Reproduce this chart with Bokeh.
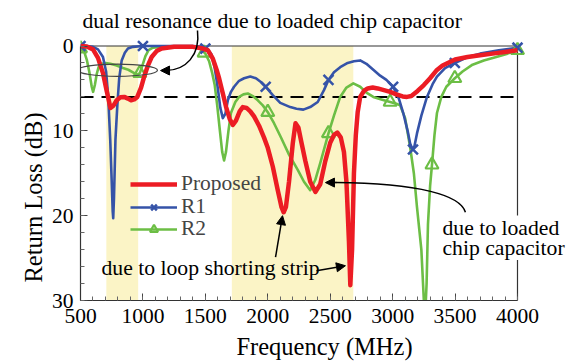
import math
from bokeh.plotting import figure
from bokeh.models import (Range1d, BoxAnnotation, Label, Arrow, NormalHead,
                          Legend, LegendItem, FixedTicker, Title)
from bokeh.embed import file_html
from bokeh.resources import INLINE

# ---------------- data ----------------
freq_prop = [500, 550, 600, 640, 680, 710, 740, 765, 790, 820, 850, 880, 905, 930, 955, 985,
             1010, 1040, 1070, 1110, 1150, 1250, 1400, 1480, 1520, 1560, 1590, 1610, 1640, 1666,
             1695, 1720, 1745, 1775, 1800, 1830, 1860, 1890, 1930, 1970, 2000, 2040, 2080, 2110,
             2127, 2145, 2170, 2200, 2222, 2245, 2270, 2300, 2340, 2382, 2420, 2460, 2500, 2530,
             2557, 2585, 2610, 2630, 2650, 2661, 2675, 2690, 2705, 2720, 2740, 2770, 2800, 2840,
             2880, 2930, 2980, 3030, 3080, 3115, 3150, 3200, 3250, 3300, 3350, 3400, 3500, 3600,
             3700, 3800, 3900, 4000]
rl_prop = [0.0, 0.05, 0.4, 1.4, 3.2, 5.3, 7.3, 7.0, 6.4, 6.05, 6.0, 6.2, 6.4, 6.3, 6.0, 4.9,
           3.6, 2.3, 1.3, 0.6, 0.3, 0.1, 0.1, 0.3, 0.5, 1.5, 2.8, 3.8, 5.6, 7.2,
           8.6, 9.3, 8.8, 7.7, 7.2, 7.3, 7.7, 8.3, 9.4, 10.8, 12.0, 14.2, 17.0, 19.0,
           19.6, 19.0, 16.0, 11.5, 9.1, 9.6, 11.4, 13.5, 16.0, 17.2, 16.3, 13.6, 11.4, 10.5,
           10.2, 10.8, 12.5, 16.0, 23.0, 28.2, 24.0, 15.0, 10.5, 7.8, 6.0, 5.3, 5.0, 4.9,
           5.0, 5.2, 5.4, 5.7, 5.95, 6.0, 5.9, 5.3, 4.6, 3.8, 2.9, 2.3, 1.6, 1.3,
           1.1, 0.9, 0.7, 0.5]

freq_r1 = [500, 550, 600, 640, 680, 705, 722, 738, 750, 758, 762, 768, 780, 795, 810, 830, 855,
           880, 920, 1000, 1200, 1400, 1480, 1520, 1550, 1575, 1600, 1620, 1640, 1660, 1680,
           1705, 1730, 1770, 1810, 1860, 1905, 1950, 1983, 2040, 2100, 2180, 2230, 2285, 2340,
           2400, 2450, 2486, 2530, 2580, 2640, 2690, 2740, 2790, 2845, 2900, 2950, 3004, 3050,
           3085, 3120, 3140, 3160, 3175, 3195, 3230, 3275, 3320, 3355, 3420, 3498, 3600, 3700,
           3850, 4000]
rl_r1 = [0.0, 0.0, 0.1, 0.4, 1.3, 3.0, 6.0, 11.0, 16.0, 19.5, 20.3, 18.0, 11.0, 7.0, 3.8, 1.7, 0.8,
         0.3, 0.1, 0.0, 0.0, 0.0, 0.1, 0.4, 1.0, 2.6, 5.0, 7.3, 8.5, 8.0, 6.4,
         5.4, 4.8, 4.1, 3.8, 3.6, 3.8, 4.3, 4.8, 5.8, 6.7, 7.2, 7.4, 7.5, 7.2,
         6.6, 5.2, 4.0, 3.1, 2.5, 2.0, 1.8, 1.7, 2.1, 2.8, 3.5, 4.0, 4.8, 6.2,
         7.9, 10.0, 11.5, 12.2, 11.8, 10.3, 8.2, 6.0, 4.5, 3.6, 2.6, 2.0, 1.3, 0.9,
         0.5, 0.2]

freq_r2 = [500, 530, 550, 570, 590, 601, 615, 630, 645, 670, 700, 740, 790, 840, 883, 920, 955,
           975, 1000, 1020, 1045, 1080, 1150, 1400, 1460, 1500, 1530, 1555, 1575, 1595, 1615,
           1635, 1650, 1665, 1685, 1705, 1740, 1770, 1805, 1840, 1880, 1920, 1960, 2000, 2050,
           2103, 2170, 2240, 2290, 2340, 2380, 2420, 2486, 2530, 2580, 2630, 2685, 2740, 2790,
           2845, 2910, 2980, 3030, 3060, 3100, 3140, 3170, 3195, 3230, 3250, 3260, 3272, 3283,
           3300, 3315, 3335, 3355, 3390, 3430, 3498, 3560, 3640, 3730, 3830, 3920, 4000]
rl_r2 = [0.3, 0.7, 1.6, 3.0, 4.8, 5.4, 4.6, 3.3, 2.5, 2.1, 2.0, 2.1, 2.3, 2.6, 2.8, 3.1, 3.4,
         3.2, 2.1, 1.2, 0.5, 0.2, 0.1, 0.1, 0.3, 0.9, 1.8, 3.2, 4.6, 7.0, 9.8,
         12.5, 13.5, 12.5, 10.0, 7.9, 6.6, 6.0, 5.7, 5.6, 5.9, 6.4, 7.0, 7.8, 9.1,
         10.7, 12.8, 14.6, 16.0, 17.0, 15.8, 13.8, 10.3, 8.2, 6.0, 4.9, 4.4, 4.8, 5.5,
         6.0, 6.3, 6.6, 6.8, 7.0, 8.5, 11.9, 15.0, 19.0, 24.0, 30.0, 32.0, 28.0, 21.0,
         16.5, 14.0, 10.5, 7.9, 6.0, 4.8, 3.8, 3.0, 2.2, 1.7, 1.3, 0.9, 0.5]

r1_mk_f = [500, 1000, 1500, 1983, 2486, 3004, 3163, 3498, 4000]
r1_mk_db = [0.0, 0.0, 0.3, 4.8, 4.0, 4.8, 12.2, 2.0, 0.2]
r2_mk_f = [500, 975, 1490, 2000, 2486, 2980, 3315, 3498, 4000]
r2_mk_db = [0.3, 3.2, 0.8, 7.8, 10.3, 6.6, 14.0, 3.8, 0.5]

bands = [(707, 962), (1712, 2685)]
threshold_db = 6
x_min, x_max = 500, 4000
y_min, y_max = 0, 30
x_ticks = [500, 1000, 1500, 2000, 2500, 3000, 3500, 4000]
y_ticks = [0, 10, 20, 30]
series_names = ["Proposed", "R1", "R2"]

# ---------------- styles ----------------
RED = "#EC1C24"
BLUE = "#3553A8"
GREEN = "#6CBE45"
BAND = "#FBF4C6"
FRAME = "#333333"
FONT = "Liberation Serif"
TXT = "21.7px"
TICK = "21.5px"
AXL = "24.5px"

# frame covers the canvas up to its top/right edges so annotations outside the
# axes box are not clipped; the visible box is drawn to the axis bounds.
p = figure(width=568, height=362, output_backend="svg", toolbar_location=None,
           x_range=Range1d(500, 4408.5), y_range=Range1d(30, -5.364),
           min_border_left=80, min_border_right=0, min_border_top=0, min_border_bottom=62)
p.grid.visible = False
p.outline_line_color = None
p.background_fill_color = "white"

for (a, b) in bands:
    p.add_layout(BoxAnnotation(left=a, right=b, top=y_min, bottom=y_max, fill_color=BAND,
                               fill_alpha=1.0, line_color=None, level="underlay"))

p.line([x_min, x_max], [threshold_db, threshold_db], line_color="black", line_width=2,
       line_dash="13 8")
# top and right edges of the axes box
p.line([x_min, x_max, x_max], [y_min, y_min, y_max], line_color=FRAME, line_width=1.2)

r_g = p.line(freq_r2, rl_r2, line_color=GREEN, line_width=2.6, line_join="round")
r_b = p.line(freq_r1, rl_r1, line_color=BLUE, line_width=2.6, line_join="round")
m_g = p.scatter(r2_mk_f, r2_mk_db, marker="triangle", size=13, fill_color=None,
                line_color=GREEN, line_width=2.2)
m_b = p.scatter(r1_mk_f, r1_mk_db, marker="x", size=14, line_color=BLUE, line_width=2.5)
r_r = p.line(freq_prop, rl_prop, line_color=RED, line_width=4.5, line_join="round")

# axes
xa = p.xaxis[0]
xa.ticker = FixedTicker(ticks=x_ticks, minor_ticks=list(range(500, 4001, 100)))
xa.bounds = (x_min, x_max)
ya = p.yaxis[0]
ya.ticker = FixedTicker(ticks=y_ticks, minor_ticks=list(range(0, 31, 2)))
ya.bounds = (y_min, y_max)
for ax in (xa, ya):
    ax.major_tick_in = 7
    ax.major_tick_out = 0
    ax.minor_tick_in = 4
    ax.minor_tick_out = 0
    ax.axis_line_color = FRAME
    ax.axis_line_width = 1.2
    ax.major_tick_line_color = "#444444"
    ax.minor_tick_line_color = "#666666"
    ax.major_label_text_font = FONT
    ax.major_label_text_font_size = TICK
    ax.major_label_text_color = "black"
xa.major_label_standoff = 8
ya.major_label_standoff = 7
xa.axis_label = "Frequency (MHz)"
xa.axis_label_text_font = FONT
xa.axis_label_text_font_size = AXL
xa.axis_label_text_font_style = "normal"
xa.axis_label_text_color = "black"
xa.axis_label_standoff = 7

# y-axis title, placed as a side title so it can sit where the reference has it
p.add_layout(Title(text="Return Loss (dB)", align="left", offset=18,
                   text_font=FONT, text_font_size=AXL, text_font_style="normal",
                   text_color="black", standoff=4), "left")

# legend: one single-row legend per series so the row pitch matches the reference
legend_rows = [(series_names[0], [r_r], 104),
               (series_names[1], [r_b, m_b], 81),
               (series_names[2], [r_g, m_g], 59)]
for name, rends, ypos in legend_rows:
    lg = Legend(items=[LegendItem(label=name, renderers=rends)],
                location=(50, ypos), border_line_color=None, background_fill_alpha=0,
                label_text_font=FONT, label_text_font_size=TICK, glyph_width=47,
                glyph_height=20, label_height=20, spacing=0, padding=0, margin=0,
                label_standoff=4)
    p.add_layout(lg)

# annotations
p.add_layout(Label(x=516, y=-3.0, text="dual resonance due to loaded chip capacitor",
                   text_align="left", text_baseline="middle", text_font=FONT,
                   text_font_size=TXT, text_color="black"))
p.ellipse(x=[796], y=[2.85], width=641, height=1.45, fill_color=None,
          line_color="#444444", line_width=1.2)
p.bezier(x0=[1437], y0=[-1.83], x1=[1181], y1=[2.89], cx0=[1461], cy0=[1.12],
         cx1=[1341], cy1=[2.89], line_color="black", line_width=1.5)
p.add_layout(Arrow(end=NormalHead(size=9, fill_color="black", line_color="black"),
                   x_start=1190, y_start=2.89, x_end=1141, y_end=2.89,
                   line_color="black", line_width=1.5))

p.add_layout(Label(x=668, y=26.2, text="due to loop shorting strip", text_align="left",
                   text_baseline="middle", text_font=FONT, text_font_size=TXT,
                   text_color="black"))
p.add_layout(Arrow(end=NormalHead(size=9, fill_color="black", line_color="black"),
                   x_start=2062, y_start=24.9, x_end=2118, y_end=20.0,
                   line_color="black", line_width=1.5))
p.add_layout(Arrow(end=NormalHead(size=9, fill_color="black", line_color="black"),
                   x_start=2390, y_start=26.5, x_end=2622, y_end=25.9,
                   line_color="black", line_width=1.5))

p.add_layout(Label(x=3399, y=21.4, text="due to loaded", text_align="left",
                   text_baseline="middle", text_font=FONT, text_font_size=TXT,
                   text_color="black", background_fill_color="white"))
p.add_layout(Label(x=3399, y=23.8, text="chip capacitor", text_align="left",
                   text_baseline="middle", text_font=FONT, text_font_size=TXT,
                   text_color="black", background_fill_color="white"))
p.bezier(x0=[3583], y0=[19.6], x1=[2542], y1=[16.1], cx0=[3543], cy0=[17.6],
         cx1=[3223], cy1=[16.2], line_color="black", line_width=1.5)
p.add_layout(Arrow(end=NormalHead(size=9, fill_color="black", line_color="black"),
                   x_start=2550, y_start=16.1, x_end=2462, y_end=16.1,
                   line_color="black", line_width=1.5))

open("out.html", "w").write(file_html(p, INLINE))
